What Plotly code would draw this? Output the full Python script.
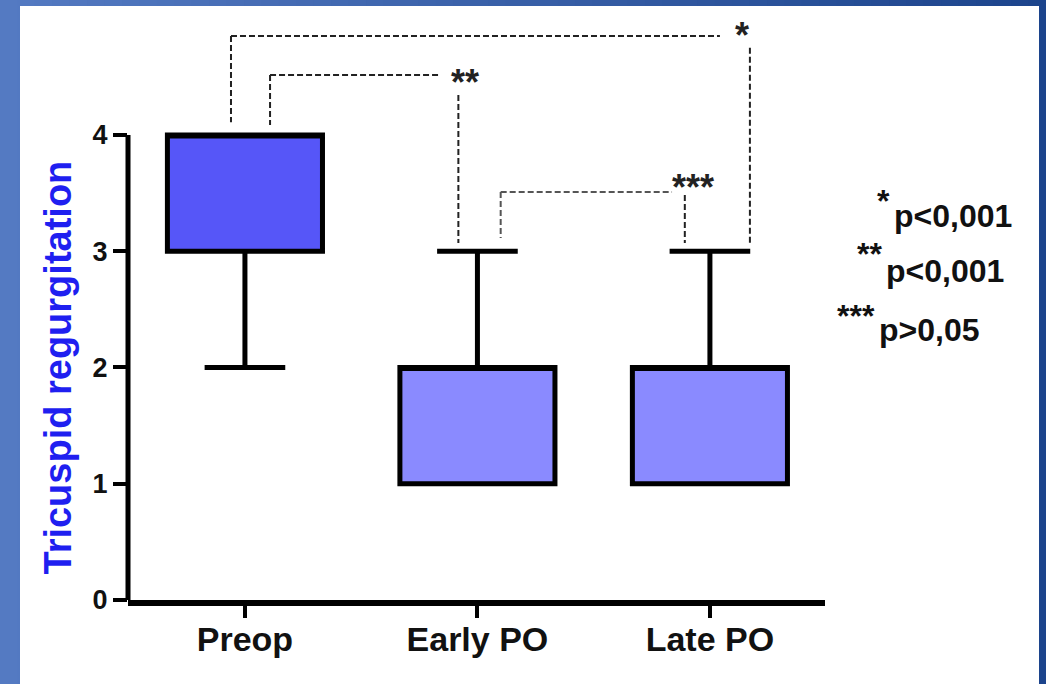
import plotly.graph_objects as go

# ---------------- data ----------------
categories = ["Preop", "Early PO", "Late PO"]
q1_values = [3, 1, 1]
median_values = [4, 2, 2]
q3_values = [4, 2, 2]
lower_whisker = [2, 1, 1]
upper_whisker = [4, 3, 3]
y_tick_values = [0, 1, 2, 3, 4]
y_title = "Tricuspid regurgitation"
bracket_labels = ["*", "**", "***"]
p_legend_stars = ["*", "**", "***"]
p_legend_texts = ["p&lt;0,001", "p&lt;0,001", "p&gt;0,05"]

# ---------------- styles ----------------
fill_colors = ["#5656f8", "#8a8aff", "#8a8aff"]
W, H = 1046, 684
L, R, T, B = 128, 221, 15, 84
PW, PH = W - L - R, H - T - B
Y_MAX = 5.032


def px_x(px):
    return (px - L) / PW


def px_y(py):
    return (H - B - py) / PH


fig = go.Figure()
for i, cat in enumerate(categories):
    fig.add_trace(go.Box(
        x=[cat], q1=[q1_values[i]], median=[median_values[i]], q3=[q3_values[i]],
        lowerfence=[lower_whisker[i]], upperfence=[upper_whisker[i]],
        fillcolor=fill_colors[i], line=dict(color="black", width=5),
        width=0.667, whiskerwidth=0.52, boxpoints=False, showlegend=False,
        hoverinfo="skip",
    ))

shapes = []
# background gradient frame
n = 60
c0, c1 = (84, 122, 194), (28, 68, 140)
for k in range(n):
    t = k / (n - 1)
    col = "rgb(%d,%d,%d)" % tuple(round(a + (b - a) * t) for a, b in zip(c0, c1))
    shapes.append(dict(type="rect", xref="paper", yref="paper", layer="below",
                       x0=px_x(k * W / n), x1=px_x((k + 1) * W / n + 1),
                       y0=px_y(H), y1=px_y(0), line=dict(width=0), fillcolor=col))
shapes.append(dict(type="rect", xref="paper", yref="paper", layer="below",
                   x0=px_x(20), x1=px_x(1039), y0=px_y(H + 2), y1=px_y(6),
                   line=dict(width=0), fillcolor="white"))
# y axis line from 0 to 4
shapes.append(dict(type="line", xref="paper", yref="y", x0=0, x1=0, y0=0, y1=4,
                   line=dict(color="black", width=5)))

# significance brackets (dashed)
dash = dict(color="#222222", width=2, dash="6px,3px")
dash_grey = dict(color="#555555", width=2, dash="6px,3px")
brackets = [
    # xl, ytop, yl_bottom, h_end, xr, yr_top, yr_bottom, style
    (-0.06, 4.852, 4.11, 2.043, 2.172, 4.75, 3.07, dash),
    (0.108, 4.516, 4.086, 0.839, 0.918, 4.344, 3.07, dash),
    (1.10, 3.51, 3.114, 1.837, 1.892, 3.484, 3.07, dash_grey),
]
for xl, ytop, ylb, hend, xr, yrt, yrb, st in brackets:
    shapes.append(dict(type="line", xref="x", yref="y", x0=xl, x1=hend, y0=ytop, y1=ytop, line=st))
    shapes.append(dict(type="line", xref="x", yref="y", x0=xl, x1=xl, y0=ytop, y1=ylb, line=st))
    shapes.append(dict(type="line", xref="x", yref="y", x0=xr, x1=xr, y0=yrt, y1=yrb, line=dash))

annotations = []
star_pos = [(2.14, 4.86), (0.946, 4.45), (1.927, 3.55)]
for lab, (sx, sy) in zip(bracket_labels, star_pos):
    annotations.append(dict(text="<b>%s</b>" % lab, x=sx, y=sy, xref="x", yref="y", showarrow=False,
                            font=dict(family="Liberation Sans", size=36, color="#222222"),
                            xanchor="center", yanchor="middle"))

# y-axis title
annotations.append(dict(text="<b>%s</b>" % y_title, x=px_x(58), y=2.0, xref="paper", yref="y",
                        textangle=-90, showarrow=False,
                        font=dict(family="Liberation Sans", size=38, color="#1f1ff0"),
                        xanchor="center", yanchor="middle"))

# p-value legend
legend_pos = [(892, 201, 216), (884, 254, 271), (877, 316, 330)]
for s, txt, (xp, ys, yt) in zip(p_legend_stars, p_legend_texts, legend_pos):
    annotations.append(dict(text="<b>%s</b>" % s, x=px_x(xp), y=px_y(ys), xref="paper", yref="paper",
                            showarrow=False, font=dict(family="Liberation Sans", size=32, color="#111111"),
                            xanchor="right", yanchor="middle"))
    annotations.append(dict(text="<b>%s</b>" % txt, x=px_x(xp), y=px_y(yt), xref="paper", yref="paper",
                            showarrow=False, font=dict(family="Liberation Sans", size=32, color="#111111"),
                            xanchor="left", yanchor="middle"))

fig.update_layout(
    width=W, height=H, autosize=False,
    margin=dict(l=L, r=R, t=T, b=B, pad=0),
    paper_bgcolor="white", plot_bgcolor="rgba(0,0,0,0)",
    boxmode="overlay", showlegend=False,
    shapes=shapes, annotations=annotations,
    xaxis=dict(type="category", range=[-0.503, 2.495], showgrid=False, zeroline=False,
               showline=True, linecolor="black", linewidth=6,
               ticks="outside", ticklen=12, tickwidth=4, tickcolor="black",
               ticklabelstandoff=-8,
               tickfont=dict(family="Liberation Sans", size=34, color="#111111", weight="bold")),
    yaxis=dict(range=[0, Y_MAX], showgrid=False, zeroline=False, showline=False,
               tickvals=y_tick_values, ticks="outside", ticklen=14, tickwidth=4, tickcolor="black",
               tickfont=dict(family="Liberation Sans", size=27, color="#111111", weight="bold")),
)

fig.write_html("out.html", config={"displayModeBar": False},
               post_script="document.body.style.margin='0';document.body.style.overflow='hidden';")
